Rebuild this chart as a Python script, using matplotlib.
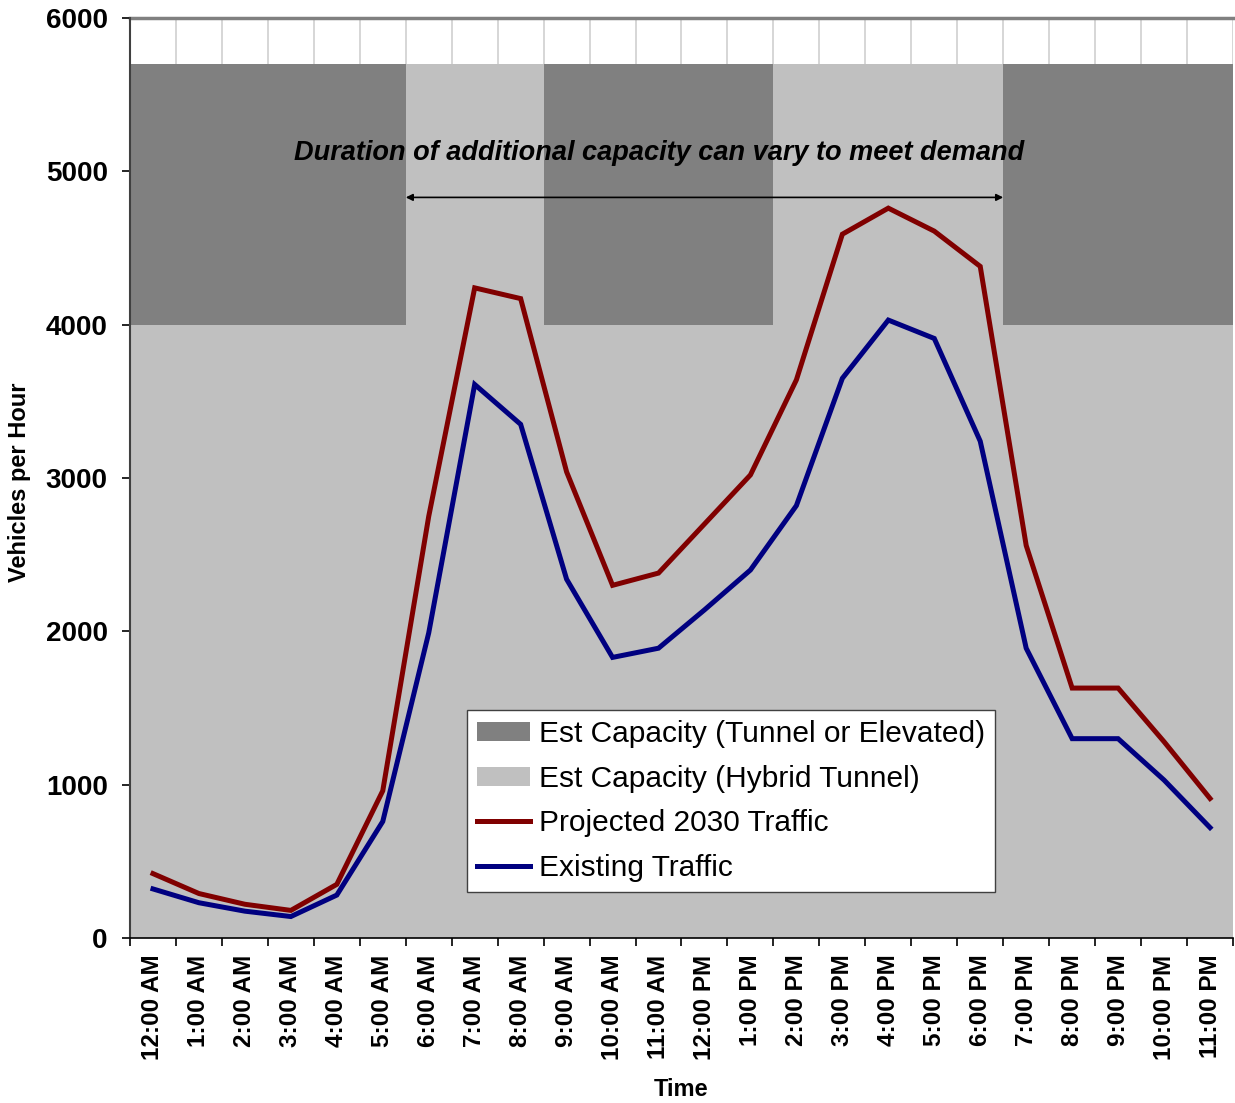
import matplotlib
matplotlib.use("Agg")
import matplotlib.pyplot as plt
import numpy as np

plt.rcParams['font.family'] = ['Liberation Sans', 'DejaVu Sans']

hours = ["12:00 AM", "1:00 AM", "2:00 AM", "3:00 AM", "4:00 AM", "5:00 AM",
         "6:00 AM", "7:00 AM", "8:00 AM", "9:00 AM", "10:00 AM", "11:00 AM",
         "12:00 PM", "1:00 PM", "2:00 PM", "3:00 PM", "4:00 PM", "5:00 PM",
         "6:00 PM", "7:00 PM", "8:00 PM", "9:00 PM", "10:00 PM", "11:00 PM"]

# Hybrid tunnel capacity (base bar) and extra tunnel/elevated capacity stacked on top
hybrid_capacity = [4000, 4000, 4000, 4000, 4000, 4000,
                   5700, 5700, 5700, 4000, 4000, 4000,
                   4000, 4000, 5700, 5700, 5700, 5700,
                   5700, 4000, 4000, 4000, 4000, 4000]
tunnel_extra = [1700, 1700, 1700, 1700, 1700, 1700,
                0, 0, 0, 1700, 1700, 1700,
                1700, 1700, 0, 0, 0, 0,
                0, 1700, 1700, 1700, 1700, 1700]

projected_2030 = [420, 290, 220, 180, 350, 960, 2750, 4240, 4170, 3040, 2300, 2380,
                  2700, 3020, 3640, 4590, 4760, 4610, 4380, 2560, 1630, 1630, 1280, 910]
existing = [320, 230, 175, 140, 280, 760, 1990, 3610, 3350, 2340, 1830, 1890,
            2140, 2400, 2820, 3650, 4030, 3910, 3240, 1890, 1300, 1300, 1030, 720]

W, H = 1235, 1103
L, R, B, T = 130, 1233, 938, 18
fig = plt.figure(figsize=(W / 100, H / 100), dpi=100)
ax = fig.add_axes([L / W, 1 - B / H, (R - L) / W, (B - T) / H])

x = np.arange(len(hours))
ax.set_xlim(-0.5, len(hours) - 0.5)
ax.set_ylim(0, 6000)

# vertical gridlines at category boundaries
for b in np.arange(-0.5, len(hours) + 0.5, 1):
    ax.axvline(b, color="#d0d0d0", lw=1.2, zorder=0)
ax.axhline(6000, color="#808080", lw=2.5, zorder=0, clip_on=False)

ax.bar(x, tunnel_extra, width=1.0, bottom=hybrid_capacity, color="#808080",
       edgecolor="none", label="Est Capacity (Tunnel or Elevated)", zorder=1)
ax.bar(x, hybrid_capacity, width=1.0, color="#c0c0c0", edgecolor="none",
       label="Est Capacity (Hybrid Tunnel)", zorder=1)

ax.plot(x, projected_2030, color="#800000", lw=3.6, solid_joinstyle="miter",
        label="Projected 2030 Traffic", zorder=3)
ax.plot(x, existing, color="#000080", lw=3.6, solid_joinstyle="miter",
        label="Existing Traffic", zorder=3)

# double-headed arrow spanning the adjustable-capacity window
ax.annotate("", xy=(5.5, 4830), xytext=(18.5, 4830),
            arrowprops=dict(arrowstyle="<|-|>", color="black", lw=1.2,
                            mutation_scale=10, shrinkA=0, shrinkB=0), zorder=4)
ax.text(11.02, 5120, "Duration of additional capacity can vary to meet demand",
        ha="center", va="center", fontsize=19.5, fontweight="bold",
        fontstyle="italic", zorder=4)

ax.set_xticks(np.arange(-0.5, len(hours) + 0.5, 1), minor=False)
ax.set_xticklabels([])
ax.set_xticks(x, minor=True)
ax.set_xticklabels(hours, minor=True, rotation=90, fontsize=17.5, fontweight="bold")
ax.tick_params(axis="x", which="major", direction="out", length=5.5, width=1.2,
               color="black")
ax.tick_params(axis="x", which="minor", length=0, pad=12)
ax.set_yticks(np.arange(0, 6001, 1000))
ax.tick_params(axis="y", direction="out", length=6, width=1.2, labelsize=20, pad=10)
for lbl in ax.get_yticklabels():
    lbl.set_fontweight("bold")

for side in ["top", "right"]:
    ax.spines[side].set_visible(False)
ax.spines["left"].set_color("#404040")
ax.spines["left"].set_linewidth(1.5)
ax.spines["bottom"].set_color("black")
ax.spines["bottom"].set_linewidth(1.2)

ax.set_ylabel("Vehicles per Hour", fontsize=17, fontweight="bold")
ax.yaxis.set_label_coords((20 - L) / (R - L), (B - 482) / (B - T))
ax.yaxis.label.set_va("center")
ax.set_xlabel("Time", fontsize=17, fontweight="bold")
ax.xaxis.set_label_coords(0.5, (B - 1090) / (B - T))
ax.xaxis.label.set_va("center")

handles, labels = ax.get_legend_handles_labels()
wanted = ["Est Capacity (Tunnel or Elevated)", "Est Capacity (Hybrid Tunnel)",
          "Projected 2030 Traffic", "Existing Traffic"]
hmap = dict(zip(labels, handles))
leg = ax.legend([hmap[k] for k in wanted], wanted,
                loc="lower left",
                bbox_to_anchor=((467 - L) / (R - L), (B - 892) / (B - T)),
                fontsize=21.5, frameon=True, fancybox=False, framealpha=1,
                edgecolor="#404040", handlelength=1.75, handleheight=0.6,
                handletextpad=0.3, labelspacing=0.55, borderpad=0.35,
                borderaxespad=0)
leg.get_frame().set_linewidth(1.0)
leg.set_zorder(5)

fig.savefig("out.png", dpi=100)
